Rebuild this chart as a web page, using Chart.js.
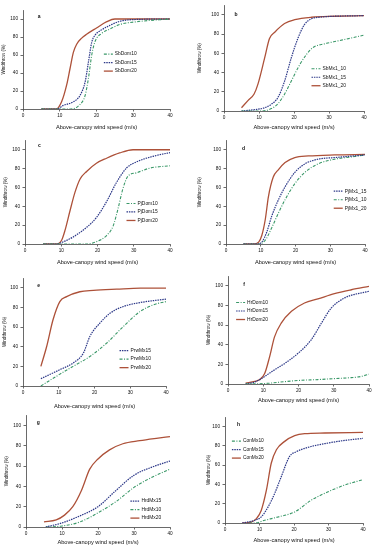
<!DOCTYPE html>
<html>
<head>
<meta charset="utf-8">
<script src="https://cdn.jsdelivr.net/npm/chart.js@4.4.1/dist/chart.umd.min.js"></script>
<style>
body{margin:0;background:#fff;width:375px;height:550px;position:relative;overflow:hidden;}
canvas{position:absolute;}
</style>
</head>
<body>
<script>
// wind speed (m/s) / windthrow (%) pairs
var sbDom10 = [[5,0],[13,0],[15.5,5],[16.9,15],[17.8,34],[18.7,60],[19.6,75],[21.4,84],[23.7,89],[26.4,94],[31,97],[40,100]];
var sbDom15 = [[5,0],[9.2,0],[11,4],[13.7,8],[15.5,15],[16.9,30],[17.8,52],[18.7,74],[19.6,82],[21.4,88],[23.7,93],[26.4,97.5],[31,99.5],[40,100]];
var sbDom20 = [[5,0],[9,0],[10.5,8],[11.9,27],[12.8,45],[13.7,63],[14.6,72],[15.9,78.5],[17.3,83],[20,90],[22.8,97],[25,100],[40,100]];

var sbMx10 = [[5,0],[10.7,0],[13.5,2.5],[15.4,7.5],[17.3,17.5],[19.2,31],[21.6,48],[23.5,58.5],[25.4,66],[28.8,70],[32.6,73],[36.4,76],[40,79]];
var sbMx15 = [[5,0],[8.8,1.4],[11.6,3.4],[13.5,7],[15.4,14],[17.3,31],[19.2,55],[21.1,75.5],[23,90],[25,96],[27,97.5],[40,99.3]];
var sbMx20 = [[5,3.4],[6.9,11],[8.6,17.7],[9.7,28],[11.6,55],[13,75.5],[14.5,82],[17.3,91],[20.2,95],[25,97.6],[31.6,98.6],[40,99.3]];

var pjDom10 = [[5,0],[17,0],[19.7,2.5],[22.5,9],[24.3,19],[25.7,38],[27,58.5],[28.4,72],[30.7,75.5],[34.4,80.5],[40,83]];
var pjDom15 = [[5,0],[8.7,0],[10.6,2.4],[13.3,7.5],[17,17.7],[19.7,28],[22.5,45],[25.2,65],[28,80.6],[30.7,87],[35.3,93],[40,97]];
var pjDom20 = [[5,0],[8.7,0],[10.1,4],[11,14],[12.4,35],[13.8,55],[15.2,69],[17,77],[19.7,85.7],[22.5,91],[26.1,96.6],[29.8,100],[40,100]];

var pjMx15 = [[5,0],[8.9,0],[10.3,2],[11.7,12.4],[13.2,30],[15.1,47],[17,60.7],[19.8,76],[22.7,85],[26.5,90],[31.3,91.7],[40,94.5]];
var pjMx10 = [[5,0],[9.4,0],[11.3,4],[13.2,17.6],[15.1,33],[17,47],[19.8,64],[22.7,76],[26.5,85],[31.3,90],[36.1,92.4],[40,94.5]];
var pjMx20 = [[5,0],[7.9,0],[9.4,2],[10.3,9],[11.3,26],[12.2,50],[13.6,71],[15.1,79],[17,86.5],[19.8,91.7],[23.7,93.4],[31.3,94.5],[40,95]];

var prwMx15 = [[5,7.5],[10.3,16.6],[14,23.4],[16.9,33.6],[18.7,50.5],[21.5,64],[24.3,74],[28.1,81],[32.8,85],[40,88.5]];
var prwMx10 = [[5,0],[9.4,10],[14,20],[18.7,30],[23.4,43.7],[28.1,60.7],[32.8,76],[36.5,82.7],[40,86]];
var prwMx20 = [[5,20],[6.6,40],[8.4,67.5],[10.3,86],[12.2,91],[15.9,96],[19.7,97.3],[26.2,98.6],[32.8,99.7],[40,99.7]];

var hrDom10 = [[5,0],[11.3,0.7],[16.1,2.4],[20.8,3.8],[25.5,4.5],[30.2,5.5],[35,6.5],[37.5,7.5],[40,10]];
var hrDom15 = [[5,0],[7.6,2],[9.5,5.5],[12.3,12.3],[16.1,21],[19.8,31],[23.6,45],[26.5,62],[29.3,77.4],[33.1,87.7],[40,94.5]];
var hrDom20 = [[5,1],[7.6,2.7],[9,4.5],[10.4,10.6],[11.8,27.7],[13.2,48],[15.1,62],[18,74],[21.7,82.5],[25.5,86.6],[30.2,92],[35,96],[40,99.5]];

var hrdMx15 = [[5.5,0],[10,4],[15,11],[20,20],[25,36],[30,51],[35,59],[40,65]];
var hrdMx10 = [[5.5,0],[10,1],[15,5],[20,14],[25,25],[30,39],[35,49],[40,57]];
var hrdMx20 = [[5,5],[8.4,7],[10.7,11.7],[13,20],[15.4,36],[17.7,57],[20,67],[23.2,76],[26.9,82],[31.6,85],[36.2,87.3],[40,89]];

var conMx10 = [[7,0],[8.6,0],[11.5,2.8],[15.4,6.3],[20.2,11.5],[25,23.7],[29.9,32.4],[34.7,39.4],[40,45]];
var conMx15 = [[5,0],[8.6,2.8],[10.5,6.3],[12.5,16.7],[14.4,30.7],[16.3,48],[18.7,69],[20.7,74],[25,79.4],[29.9,83],[34.7,85.7],[40,87.8]];
var conMx20 = [[5,0],[7.6,1],[9.1,4.5],[10.5,13],[12,34],[13.4,62],[14.9,76],[17.3,84.7],[20.2,90.6],[23.1,92.7],[28.9,93.4],[40,94]];

var xTicks = [0, 10, 20, 30, 40];
var yTicks = [0, 20, 40, 60, 80, 100];

var FONT = '"Liberation Sans", Arial, sans-serif';
var lineStyle = {
  '10': {color: '#3a9868', dash: [3, 1.5, 1, 1.5], width: 1.1},
  '15': {color: '#2c3888', dash: [1.5, 0.9], width: 1.2},
  '20': {color: '#ad5139', dash: [], width: 1.3}
};

var panels = [
  {letter:'a', labels:['SbDom10','SbDom15','SbDom20'], series:[sbDom10,sbDom15,sbDom20], kind:['10','15','20'],
   legend:[22,61], mark:[4,103], canvas:[0,0,187,135], area:[23,10,170,109], yTitle:4, xTitle:127},
  {letter:'b', labels:['SbMx1_10','SbMx1_15','SbMx1_20'], series:[sbMx10,sbMx15,sbMx20], kind:['10','15','20'],
   legend:[25,44], mark:[3,100], canvas:[187,0,188,135], area:[224,3,364,111], yTitle:199.7, xTitle:127},
  {letter:'c', labels:['PjDom10','PjDom15','PjDom20'], series:[pjDom10,pjDom15,pjDom20], kind:['10','15','20'],
   legend:[28,43], mark:[3.6,104], canvas:[0,135,187,135], area:[25,136,170,244], yTitle:5.7, xTitle:262},
  {letter:'d', labels:['PjMx1_15','PjMx1_10','PjMx1_20'], series:[pjMx15,pjMx10,pjMx20], kind:['15','10','20'],
   legend:[31,56], mark:[4.6,101], canvas:[187,135,188,135], area:[226,137,365,244], yTitle:200, xTitle:262},
  {letter:'e', labels:['PrwMx15','PrwMx10','PrwMx20'], series:[prwMx15,prwMx10,prwMx20], kind:['15','10','20'],
   legend:[27,36], mark:[4,102], canvas:[0,270,187,140], area:[23,278,166,386], yTitle:5, xTitle:406},
  {letter:'f', labels:['HrDom10','HrDom15','HrDom20'], series:[hrDom10,hrDom15,hrDom20], kind:['10','15','20'],
   legend:[2.3,83], mark:[4.3,101], canvas:[187,270,188,140], area:[228,276,369,384], yTitle:208.3, xTitle:400},
  {letter:'g', labels:['HrdMx15','HrdMx10','HrdMx20'], series:[hrdMx15,hrdMx10,hrdMx20], kind:['15','10','20'],
   legend:[29,25.5], mark:[3,103], canvas:[0,410,187,140], area:[26,415,170,527], yTitle:7, xTitle:542},
  {letter:'h', labels:['ConMx10','ConMx15','ConMx20'], series:[conMx10,conMx15,conMx20], kind:['10','15','20'],
   legend:[2,85], mark:[3.5,102], canvas:[187,410,188,140], area:[225,417,363,523], yTitle:208.3, xTitle:540}
];

// legend and panel letter drawn inside the plot area
var insideLegend = {
  id: 'insideLegend',
  afterDatasetsDraw: function(chart, args, opts) {
    var ctx = chart.ctx, xs = chart.scales.x, ys = chart.scales.y;
    ctx.save();
    ctx.textBaseline = 'middle';
    ctx.fillStyle = '#111';
    ctx.font = 'bold 5px ' + FONT;
    ctx.fillText(opts.letter, xs.getPixelForValue(opts.mark[0]), ys.getPixelForValue(opts.mark[1]));
    var x0 = xs.getPixelForValue(opts.at[0]), y0 = ys.getPixelForValue(opts.at[1]);
    chart.data.datasets.forEach(function(ds, i) {
      var y = y0 + i * 8.5;
      ctx.beginPath();
      ctx.setLineDash(ds.borderDash);
      ctx.lineWidth = ds.borderWidth;
      ctx.strokeStyle = ds.borderColor;
      ctx.moveTo(x0, y);
      ctx.lineTo(x0 + 9, y);
      ctx.stroke();
      ctx.setLineDash([]);
      ctx.font = '4.9px ' + FONT;
      ctx.fillStyle = '#111';
      ctx.fillText(ds.label, x0 + 11, y);
    });
    ctx.restore();
  }
};

var tickFont = 4.7, yFont = 4.6, xFont = 5.7;

panels.forEach(function(p) {
  var cv = document.createElement('canvas');
  cv.width = p.canvas[2];
  cv.height = p.canvas[3];
  cv.style.left = p.canvas[0] + 'px';
  cv.style.top = p.canvas[1] + 'px';
  document.body.appendChild(cv);

  var yBoxLeft = p.yTitle - yFont * 1.2 / 2;
  var xBoxBottom = p.xTitle + xFont * 1.2 / 2;
  var yWidth = p.area[0] - yBoxLeft;
  var xHeight = xBoxBottom - p.area[3];

  var datasets = p.series.map(function(s, i) {
    var st = lineStyle[p.kind[i]];
    return {
      label: p.labels[i],
      data: s.map(function(pt) { return {x: pt[0], y: pt[1]}; }),
      borderColor: st.color,
      borderDash: st.dash,
      borderWidth: st.width,
      pointRadius: 0,
      fill: false,
      cubicInterpolationMode: 'monotone'
    };
  });

  var axisGrid = {display: true, drawOnChartArea: false, drawTicks: true, tickLength: 2.5, color: '#444', lineWidth: 0.8};

  new Chart(cv, {
    type: 'line',
    data: {datasets: datasets},
    plugins: [insideLegend],
    options: {
      responsive: false,
      animation: false,
      devicePixelRatio: 1,
      layout: {padding: {
        left: yBoxLeft - p.canvas[0],
        top: p.area[1] - p.canvas[1],
        right: p.canvas[0] + p.canvas[2] - p.area[2],
        bottom: p.canvas[1] + p.canvas[3] - xBoxBottom
      }},
      plugins: {
        legend: {display: false},
        tooltip: {enabled: false},
        insideLegend: {letter: p.letter, at: p.legend, mark: p.mark}
      },
      scales: {
        x: {
          type: 'linear', min: 0, max: 40,
          grid: axisGrid,
          border: {display: true, color: '#444', width: 0.8},
          afterBuildTicks: function(ax) { ax.ticks = xTicks.map(function(v) { return {value: v}; }); },
          afterFit: function(ax) { ax.height = xHeight; },
          ticks: {font: {family: FONT, size: tickFont}, color: '#111', padding: 1.5, maxRotation: 0, autoSkip: false},
          title: {display: true, text: 'Above-canopy wind speed (m/s)', font: {family: FONT, size: xFont}, color: '#111', padding: 0}
        },
        y: {
          type: 'linear', min: 0, max: 110,
          grid: axisGrid,
          border: {display: true, color: '#444', width: 0.8},
          afterBuildTicks: function(ax) { ax.ticks = yTicks.map(function(v) { return {value: v}; }); },
          afterFit: function(ax) { ax.width = yWidth; },
          ticks: {font: {family: FONT, size: tickFont}, color: '#111', padding: 2.5, autoSkip: false},
          title: {display: true, text: 'Windthrow (%)', font: {family: FONT, size: yFont}, color: '#111', padding: 0}
        }
      }
    }
  });
});
</script>
</body>
</html>
